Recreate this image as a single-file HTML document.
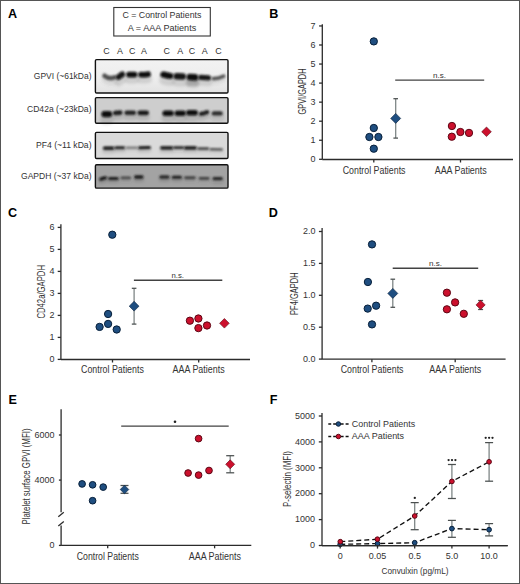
<!DOCTYPE html><html><head><meta charset="utf-8"><style>html,body{margin:0;padding:0;background:#fff;}svg{display:block;}</style></head><body>
<svg width="520" height="584" viewBox="0 0 520 584" font-family='"Liberation Sans", sans-serif'>
<rect x="0" y="0" width="520" height="584" fill="#fff"/>
<text x="8" y="17.9" font-size="12.6" text-anchor="start" fill="#000" font-weight="bold" >A</text>
<rect x="113.8" y="7.5" width="96.5" height="28.5" fill="none" stroke="#333" stroke-width="1.1"/>
<text x="161.9" y="17.7" font-size="8.8" text-anchor="middle" fill="#333333" font-weight="normal" textLength="79" lengthAdjust="spacingAndGlyphs" >C = Control Patients</text>
<text x="162" y="30.8" font-size="8.8" text-anchor="middle" fill="#333333" font-weight="normal" textLength="68.5" lengthAdjust="spacingAndGlyphs" >A = AAA Patients</text>
<text x="106.4" y="53.5" font-size="8.9" text-anchor="middle" fill="#333333" font-weight="normal" >C</text>
<text x="119.9" y="53.5" font-size="8.9" text-anchor="middle" fill="#333333" font-weight="normal" >A</text>
<text x="132.2" y="53.5" font-size="8.9" text-anchor="middle" fill="#333333" font-weight="normal" >C</text>
<text x="144" y="53.5" font-size="8.9" text-anchor="middle" fill="#333333" font-weight="normal" >A</text>
<text x="166.6" y="53.5" font-size="8.9" text-anchor="middle" fill="#333333" font-weight="normal" >C</text>
<text x="180.1" y="53.5" font-size="8.9" text-anchor="middle" fill="#333333" font-weight="normal" >A</text>
<text x="192" y="53.5" font-size="8.9" text-anchor="middle" fill="#333333" font-weight="normal" >C</text>
<text x="204.8" y="53.5" font-size="8.9" text-anchor="middle" fill="#333333" font-weight="normal" >A</text>
<text x="218.5" y="53.5" font-size="8.9" text-anchor="middle" fill="#333333" font-weight="normal" >C</text>
<text x="91.5" y="79.2" font-size="8.6" text-anchor="end" fill="#333333" font-weight="normal" textLength="57.7" lengthAdjust="spacingAndGlyphs" >GPVI (~61kDa)</text>
<text x="91.5" y="112.3" font-size="8.6" text-anchor="end" fill="#333333" font-weight="normal" textLength="64.5" lengthAdjust="spacingAndGlyphs" >CD42a (~23kDa)</text>
<text x="91.5" y="148" font-size="8.6" text-anchor="end" fill="#333333" font-weight="normal" textLength="55.5" lengthAdjust="spacingAndGlyphs" >PF4 (~11 kDa)</text>
<text x="91.5" y="179" font-size="8.6" text-anchor="end" fill="#333333" font-weight="normal" textLength="70.5" lengthAdjust="spacingAndGlyphs" >GAPDH (~37 kDa)</text>
<defs><filter id="bl" filterUnits="userSpaceOnUse" x="90" y="50" width="145" height="145"><feGaussianBlur stdDeviation="1.05"/></filter><filter id="bl2" filterUnits="userSpaceOnUse" x="90" y="50" width="145" height="145"><feGaussianBlur stdDeviation="1.6"/></filter><linearGradient id="g1" x1="0" y1="0" x2="0" y2="1"><stop offset="0" stop-color="#f2f2f2"/><stop offset="0.6" stop-color="#ededed"/><stop offset="1" stop-color="#e2e2e2"/></linearGradient></defs>
<rect x="95.4" y="59.6" width="132.6" height="33.4" rx="1.2" fill="url(#g1)" stroke="#111" stroke-width="1.4"/>
<rect x="187" y="78" width="11" height="8" fill="#bdbdbd" filter="url(#bl2)"/>
<path d="M104.5 79.9 Q109.4 83.5 114.3 81.5" stroke="rgb(80,80,80)" stroke-opacity="0.12" stroke-width="6.4" stroke-linecap="round" fill="none" filter="url(#bl2)"/>
<path d="M104.5 75.8 Q109.4 79.4 114.3 77.4" stroke="rgb(80,80,80)" stroke-width="4.6" stroke-linecap="round" fill="none" filter="url(#bl)"/>
<path d="M118.6 82.2 Q120.4 80.9 122.2 79.6" stroke="rgb(18,18,18)" stroke-opacity="0.12" stroke-width="8.1" stroke-linecap="round" fill="none" filter="url(#bl2)"/>
<path d="M118.6 77.0 Q120.4 75.7 122.2 74.4" stroke="rgb(18,18,18)" stroke-width="5.8" stroke-linecap="round" fill="none" filter="url(#bl)"/>
<path d="M129.0 79.8 Q131.8 79.8 134.6 79.8" stroke="rgb(10,10,10)" stroke-opacity="0.12" stroke-width="8.1" stroke-linecap="round" fill="none" filter="url(#bl2)"/>
<path d="M129.0 74.6 Q131.8 74.6 134.6 74.6" stroke="rgb(10,10,10)" stroke-width="5.8" stroke-linecap="round" fill="none" filter="url(#bl)"/>
<path d="M140.9 79.6 Q144.5 79.9 148.1 79.2" stroke="rgb(10,10,10)" stroke-opacity="0.12" stroke-width="7.8" stroke-linecap="round" fill="none" filter="url(#bl2)"/>
<path d="M140.9 74.6 Q144.5 74.9 148.1 74.2" stroke="rgb(10,10,10)" stroke-width="5.6" stroke-linecap="round" fill="none" filter="url(#bl)"/>
<path d="M163.4 80.2 Q166.9 81.2 170.4 81.6" stroke="rgb(10,10,10)" stroke-opacity="0.12" stroke-width="8.7" stroke-linecap="round" fill="none" filter="url(#bl2)"/>
<path d="M163.4 74.6 Q166.9 75.6 170.4 76.0" stroke="rgb(10,10,10)" stroke-width="6.2" stroke-linecap="round" fill="none" filter="url(#bl)"/>
<path d="M176.7 82.1 Q179.8 82.2 182.9 82.3" stroke="rgb(18,18,18)" stroke-opacity="0.12" stroke-width="9.0" stroke-linecap="round" fill="none" filter="url(#bl2)"/>
<path d="M176.7 76.3 Q179.8 76.4 182.9 76.5" stroke="rgb(18,18,18)" stroke-width="6.4" stroke-linecap="round" fill="none" filter="url(#bl)"/>
<path d="M189.8 82.9 Q192.4 83.1 195.0 83.3" stroke="rgb(12,12,12)" stroke-opacity="0.12" stroke-width="9.2" stroke-linecap="round" fill="none" filter="url(#bl2)"/>
<path d="M189.8 77.0 Q192.4 77.2 195.0 77.4" stroke="rgb(12,12,12)" stroke-width="6.6" stroke-linecap="round" fill="none" filter="url(#bl)"/>
<path d="M200.7 82.1 Q204.6 82.5 208.5 82.5" stroke="rgb(20,20,20)" stroke-opacity="0.12" stroke-width="7.3" stroke-linecap="round" fill="none" filter="url(#bl2)"/>
<path d="M200.7 77.4 Q204.6 77.8 208.5 77.8" stroke="rgb(20,20,20)" stroke-width="5.2" stroke-linecap="round" fill="none" filter="url(#bl)"/>
<path d="M213.2 81.8 Q218.4 82.0 223.7 79.4" stroke="rgb(85,85,85)" stroke-opacity="0.12" stroke-width="5.0" stroke-linecap="round" fill="none" filter="url(#bl2)"/>
<path d="M213.2 78.6 Q218.4 78.8 223.7 76.2" stroke="rgb(85,85,85)" stroke-width="3.6" stroke-linecap="round" fill="none" filter="url(#bl)"/>
<rect x="95.4" y="97.6" width="132.6" height="25.6" rx="1.2" fill="#cecece" stroke="#111" stroke-width="1.4"/>
<path d="M104.5 119.9 Q106.8 119.9 109.1 119.9" stroke="rgb(8,8,8)" stroke-opacity="0.12" stroke-width="9.0" stroke-linecap="round" fill="none" filter="url(#bl2)"/>
<path d="M104.5 114.1 Q106.8 114.1 109.1 114.1" stroke="rgb(8,8,8)" stroke-width="6.4" stroke-linecap="round" fill="none" filter="url(#bl)"/>
<path d="M115.1 117.1 Q117.7 116.9 120.3 116.7" stroke="rgb(30,30,30)" stroke-opacity="0.12" stroke-width="6.4" stroke-linecap="round" fill="none" filter="url(#bl2)"/>
<path d="M115.1 113.0 Q117.7 112.8 120.3 112.6" stroke="rgb(30,30,30)" stroke-width="4.6" stroke-linecap="round" fill="none" filter="url(#bl)"/>
<path d="M126.6 116.9 Q130.2 116.9 133.8 116.9" stroke="rgb(32,32,32)" stroke-opacity="0.12" stroke-width="6.4" stroke-linecap="round" fill="none" filter="url(#bl2)"/>
<path d="M126.6 112.8 Q130.2 112.8 133.8 112.8" stroke="rgb(32,32,32)" stroke-width="4.6" stroke-linecap="round" fill="none" filter="url(#bl)"/>
<path d="M139.7 117.1 Q143.2 117.1 146.7 117.1" stroke="rgb(25,25,25)" stroke-opacity="0.12" stroke-width="6.7" stroke-linecap="round" fill="none" filter="url(#bl2)"/>
<path d="M139.7 112.8 Q143.2 112.8 146.7 112.8" stroke="rgb(25,25,25)" stroke-width="4.8" stroke-linecap="round" fill="none" filter="url(#bl)"/>
<path d="M165.1 118.1 Q168.1 118.1 171.1 118.1" stroke="rgb(10,10,10)" stroke-opacity="0.12" stroke-width="7.6" stroke-linecap="round" fill="none" filter="url(#bl2)"/>
<path d="M165.1 113.2 Q168.1 113.2 171.1 113.2" stroke="rgb(10,10,10)" stroke-width="5.4" stroke-linecap="round" fill="none" filter="url(#bl)"/>
<path d="M177.2 118.1 Q180.2 118.1 183.2 118.1" stroke="rgb(14,14,14)" stroke-opacity="0.12" stroke-width="7.6" stroke-linecap="round" fill="none" filter="url(#bl2)"/>
<path d="M177.2 113.2 Q180.2 113.2 183.2 113.2" stroke="rgb(14,14,14)" stroke-width="5.4" stroke-linecap="round" fill="none" filter="url(#bl)"/>
<path d="M188.7 117.6 Q192.0 117.6 195.3 117.6" stroke="rgb(12,12,12)" stroke-opacity="0.12" stroke-width="7.6" stroke-linecap="round" fill="none" filter="url(#bl2)"/>
<path d="M188.7 112.7 Q192.0 112.7 195.3 112.7" stroke="rgb(12,12,12)" stroke-width="5.4" stroke-linecap="round" fill="none" filter="url(#bl)"/>
<path d="M200.9 117.7 Q204.1 117.4 207.2 115.9" stroke="rgb(30,30,30)" stroke-opacity="0.12" stroke-width="5.9" stroke-linecap="round" fill="none" filter="url(#bl2)"/>
<path d="M200.9 113.9 Q204.1 113.6 207.2 112.1" stroke="rgb(30,30,30)" stroke-width="4.2" stroke-linecap="round" fill="none" filter="url(#bl)"/>
<path d="M213.8 117.4 Q217.2 117.4 220.6 117.4" stroke="rgb(42,42,42)" stroke-opacity="0.12" stroke-width="6.2" stroke-linecap="round" fill="none" filter="url(#bl2)"/>
<path d="M213.8 113.4 Q217.2 113.4 220.6 113.4" stroke="rgb(42,42,42)" stroke-width="4.4" stroke-linecap="round" fill="none" filter="url(#bl)"/>
<rect x="95.4" y="132.4" width="132.6" height="26.1" rx="1.2" fill="#dadada" stroke="#111" stroke-width="1.4"/>
<path d="M104.5 151.2 Q108.6 151.2 112.7 151.2" stroke="rgb(8,8,8)" stroke-opacity="0.12" stroke-width="4.8" stroke-linecap="round" fill="none" filter="url(#bl2)"/>
<path d="M104.5 148.1 Q108.6 148.1 112.7 148.1" stroke="rgb(8,8,8)" stroke-width="3.4" stroke-linecap="round" fill="none" filter="url(#bl)"/>
<path d="M115.8 150.4 Q119.7 150.4 123.7 150.4" stroke="rgb(35,35,35)" stroke-opacity="0.12" stroke-width="4.2" stroke-linecap="round" fill="none" filter="url(#bl2)"/>
<path d="M115.8 147.7 Q119.7 147.7 123.7 147.7" stroke="rgb(35,35,35)" stroke-width="3.0" stroke-linecap="round" fill="none" filter="url(#bl)"/>
<path d="M126.8 150.0 Q131.7 150.0 136.6 150.0" stroke="rgb(125,125,125)" stroke-opacity="0.12" stroke-width="3.6" stroke-linecap="round" fill="none" filter="url(#bl2)"/>
<path d="M126.8 147.7 Q131.7 147.7 136.6 147.7" stroke="rgb(125,125,125)" stroke-width="2.6" stroke-linecap="round" fill="none" filter="url(#bl)"/>
<path d="M139.6 150.5 Q144.5 150.4 149.4 150.3" stroke="rgb(25,25,25)" stroke-opacity="0.12" stroke-width="4.3" stroke-linecap="round" fill="none" filter="url(#bl2)"/>
<path d="M139.6 147.7 Q144.5 147.6 149.4 147.5" stroke="rgb(25,25,25)" stroke-width="3.1" stroke-linecap="round" fill="none" filter="url(#bl)"/>
<path d="M161.7 150.8 Q166.7 150.8 171.7 150.8" stroke="rgb(10,10,10)" stroke-opacity="0.12" stroke-width="4.6" stroke-linecap="round" fill="none" filter="url(#bl2)"/>
<path d="M161.7 147.8 Q166.7 147.8 171.7 147.8" stroke="rgb(10,10,10)" stroke-width="3.3" stroke-linecap="round" fill="none" filter="url(#bl)"/>
<path d="M174.5 150.2 Q178.6 150.2 182.7 150.2" stroke="rgb(38,38,38)" stroke-opacity="0.12" stroke-width="4.1" stroke-linecap="round" fill="none" filter="url(#bl2)"/>
<path d="M174.5 147.6 Q178.6 147.6 182.7 147.6" stroke="rgb(38,38,38)" stroke-width="2.9" stroke-linecap="round" fill="none" filter="url(#bl)"/>
<path d="M185.5 150.8 Q190.4 150.8 195.3 150.8" stroke="rgb(12,12,12)" stroke-opacity="0.12" stroke-width="4.6" stroke-linecap="round" fill="none" filter="url(#bl2)"/>
<path d="M185.5 147.8 Q190.4 147.8 195.3 147.8" stroke="rgb(12,12,12)" stroke-width="3.3" stroke-linecap="round" fill="none" filter="url(#bl)"/>
<path d="M198.6 151.1 Q203.2 151.1 207.8 151.1" stroke="rgb(70,70,70)" stroke-opacity="0.12" stroke-width="3.8" stroke-linecap="round" fill="none" filter="url(#bl2)"/>
<path d="M198.6 148.7 Q203.2 148.7 207.8 148.7" stroke="rgb(70,70,70)" stroke-width="2.7" stroke-linecap="round" fill="none" filter="url(#bl)"/>
<path d="M210.7 151.4 Q216.2 151.6 221.7 151.7" stroke="rgb(85,85,85)" stroke-opacity="0.12" stroke-width="3.5" stroke-linecap="round" fill="none" filter="url(#bl2)"/>
<path d="M210.7 149.2 Q216.2 149.3 221.7 149.4" stroke="rgb(85,85,85)" stroke-width="2.5" stroke-linecap="round" fill="none" filter="url(#bl)"/>
<rect x="95.4" y="164.7" width="132.6" height="23.4" rx="1.2" fill="#a3a3a3" stroke="#111" stroke-width="1.4"/>
<path d="M100.8 181.9 Q103.1 181.3 105.4 180.7" stroke="rgb(15,15,15)" stroke-opacity="0.12" stroke-width="4.5" stroke-linecap="round" fill="none" filter="url(#bl2)"/>
<path d="M100.8 179.0 Q103.1 178.4 105.4 177.8" stroke="rgb(15,15,15)" stroke-width="3.2" stroke-linecap="round" fill="none" filter="url(#bl)"/>
<path d="M109.5 181.1 Q113.4 181.1 117.2 181.1" stroke="rgb(28,28,28)" stroke-opacity="0.12" stroke-width="4.2" stroke-linecap="round" fill="none" filter="url(#bl2)"/>
<path d="M109.5 178.4 Q113.4 178.4 117.2 178.4" stroke="rgb(28,28,28)" stroke-width="3.0" stroke-linecap="round" fill="none" filter="url(#bl)"/>
<path d="M121.9 180.4 Q125.8 180.4 129.7 180.4" stroke="rgb(70,70,70)" stroke-opacity="0.12" stroke-width="3.9" stroke-linecap="round" fill="none" filter="url(#bl2)"/>
<path d="M121.9 177.9 Q125.8 177.9 129.7 177.9" stroke="rgb(70,70,70)" stroke-width="2.8" stroke-linecap="round" fill="none" filter="url(#bl)"/>
<path d="M135.7 180.0 Q138.8 180.0 141.9 180.0" stroke="rgb(25,25,25)" stroke-opacity="0.12" stroke-width="4.6" stroke-linecap="round" fill="none" filter="url(#bl2)"/>
<path d="M135.7 177.0 Q138.8 177.0 141.9 177.0" stroke="rgb(25,25,25)" stroke-width="3.3" stroke-linecap="round" fill="none" filter="url(#bl)"/>
<path d="M160.8 179.8 Q164.4 179.8 168.0 179.8" stroke="rgb(28,28,28)" stroke-opacity="0.12" stroke-width="4.3" stroke-linecap="round" fill="none" filter="url(#bl2)"/>
<path d="M160.8 177.0 Q164.4 177.0 168.0 177.0" stroke="rgb(28,28,28)" stroke-width="3.1" stroke-linecap="round" fill="none" filter="url(#bl)"/>
<path d="M173.2 179.9 Q176.8 179.9 180.5 179.9" stroke="rgb(28,28,28)" stroke-opacity="0.12" stroke-width="4.2" stroke-linecap="round" fill="none" filter="url(#bl2)"/>
<path d="M173.2 177.2 Q176.8 177.2 180.5 177.2" stroke="rgb(28,28,28)" stroke-width="3.0" stroke-linecap="round" fill="none" filter="url(#bl)"/>
<path d="M185.5 180.3 Q189.9 180.3 194.3 180.3" stroke="rgb(65,65,65)" stroke-opacity="0.12" stroke-width="4.1" stroke-linecap="round" fill="none" filter="url(#bl2)"/>
<path d="M185.5 177.7 Q189.9 177.7 194.3 177.7" stroke="rgb(65,65,65)" stroke-width="2.9" stroke-linecap="round" fill="none" filter="url(#bl)"/>
<path d="M200.1 180.9 Q204.1 180.9 208.1 180.9" stroke="rgb(62,62,62)" stroke-opacity="0.12" stroke-width="3.9" stroke-linecap="round" fill="none" filter="url(#bl2)"/>
<path d="M200.1 178.4 Q204.1 178.4 208.1 178.4" stroke="rgb(62,62,62)" stroke-width="2.8" stroke-linecap="round" fill="none" filter="url(#bl)"/>
<path d="M214.0 181.5 Q217.6 181.5 221.3 181.5" stroke="rgb(38,38,38)" stroke-opacity="0.12" stroke-width="4.5" stroke-linecap="round" fill="none" filter="url(#bl2)"/>
<path d="M214.0 178.6 Q217.6 178.6 221.3 178.6" stroke="rgb(38,38,38)" stroke-width="3.2" stroke-linecap="round" fill="none" filter="url(#bl)"/>
<text x="269.3" y="18.3" font-size="12.6" text-anchor="start" fill="#000" font-weight="bold" >B</text>
<line x1="322.3" y1="24.2" x2="322.3" y2="159.5" stroke="#2b2b2b" stroke-width="1.3" />
<line x1="319.1" y1="159.3" x2="322.3" y2="159.3" stroke="#2b2b2b" stroke-width="1.3" />
<text transform="translate(315.6 162.05) scale(1 1.03)" x="0" y="0" font-size="9.0" text-anchor="end" fill="#333333" font-weight="normal" >0</text>
<line x1="319.1" y1="140.25" x2="322.3" y2="140.25" stroke="#2b2b2b" stroke-width="1.3" />
<text transform="translate(315.6 143.0) scale(1 1.03)" x="0" y="0" font-size="9.0" text-anchor="end" fill="#333333" font-weight="normal" >1</text>
<line x1="319.1" y1="121.20000000000002" x2="322.3" y2="121.20000000000002" stroke="#2b2b2b" stroke-width="1.3" />
<text transform="translate(315.6 123.95000000000002) scale(1 1.03)" x="0" y="0" font-size="9.0" text-anchor="end" fill="#333333" font-weight="normal" >2</text>
<line x1="319.1" y1="102.15" x2="322.3" y2="102.15" stroke="#2b2b2b" stroke-width="1.3" />
<text transform="translate(315.6 104.9) scale(1 1.03)" x="0" y="0" font-size="9.0" text-anchor="end" fill="#333333" font-weight="normal" >3</text>
<line x1="319.1" y1="83.10000000000001" x2="322.3" y2="83.10000000000001" stroke="#2b2b2b" stroke-width="1.3" />
<text transform="translate(315.6 85.85000000000001) scale(1 1.03)" x="0" y="0" font-size="9.0" text-anchor="end" fill="#333333" font-weight="normal" >4</text>
<line x1="319.1" y1="64.05000000000001" x2="322.3" y2="64.05000000000001" stroke="#2b2b2b" stroke-width="1.3" />
<text transform="translate(315.6 66.80000000000001) scale(1 1.03)" x="0" y="0" font-size="9.0" text-anchor="end" fill="#333333" font-weight="normal" >5</text>
<line x1="319.1" y1="45.0" x2="322.3" y2="45.0" stroke="#2b2b2b" stroke-width="1.3" />
<text transform="translate(315.6 47.75) scale(1 1.03)" x="0" y="0" font-size="9.0" text-anchor="end" fill="#333333" font-weight="normal" >6</text>
<line x1="319.1" y1="25.950000000000017" x2="322.3" y2="25.950000000000017" stroke="#2b2b2b" stroke-width="1.3" />
<text transform="translate(315.6 28.700000000000017) scale(1 1.03)" x="0" y="0" font-size="9.0" text-anchor="end" fill="#333333" font-weight="normal" >7</text>
<line x1="322.3" y1="159.5" x2="513" y2="159.5" stroke="#2b2b2b" stroke-width="1.3" />
<line x1="373.8" y1="159.5" x2="373.8" y2="162.5" stroke="#2b2b2b" stroke-width="1.3" />
<line x1="460.5" y1="159.5" x2="460.5" y2="162.5" stroke="#2b2b2b" stroke-width="1.3" />
<text transform="translate(301.8,91.5) rotate(-90)" x="0" y="3.82" font-size="10.6" text-anchor="middle" fill="#333333" textLength="46" lengthAdjust="spacingAndGlyphs">GPVI/GAPDH</text>
<text transform="translate(374.1 173.6) scale(1 1.07)" x="0" y="0" font-size="9.4" text-anchor="middle" fill="#333333" font-weight="normal" textLength="62.8" lengthAdjust="spacingAndGlyphs" >Control Patients</text>
<text transform="translate(460.7 173.6) scale(1 1.07)" x="0" y="0" font-size="9.4" text-anchor="middle" fill="#333333" font-weight="normal" textLength="52" lengthAdjust="spacingAndGlyphs" >AAA Patients</text>
<line x1="395.2" y1="80.1" x2="484.2" y2="80.1" stroke="#424242" stroke-width="1.4" />
<text x="439.5" y="77.7" font-size="8.0" text-anchor="middle" fill="#333333" font-weight="normal" textLength="13" lengthAdjust="spacingAndGlyphs" >n.s.</text>
<circle cx="373.8" cy="41.4" r="3.65" fill="#1f4e80" stroke="#08203a" stroke-width="1.0"/>
<circle cx="373.8" cy="128" r="3.65" fill="#1f4e80" stroke="#08203a" stroke-width="1.0"/>
<circle cx="369.4" cy="137" r="3.65" fill="#1f4e80" stroke="#08203a" stroke-width="1.0"/>
<circle cx="378.4" cy="137" r="3.65" fill="#1f4e80" stroke="#08203a" stroke-width="1.0"/>
<circle cx="373.8" cy="148.7" r="3.65" fill="#1f4e80" stroke="#08203a" stroke-width="1.0"/>
<line x1="395.7" y1="98.7" x2="395.7" y2="138.1" stroke="#7a8282" stroke-width="1.25" />
<line x1="393.4" y1="98.7" x2="398.0" y2="98.7" stroke="#4a4f4f" stroke-width="1.25" />
<line x1="393.4" y1="138.1" x2="398.0" y2="138.1" stroke="#4a4f4f" stroke-width="1.25" />
<path d="M395.7 113.4 L400.7 118.4 L395.7 123.4 L390.7 118.4 Z" fill="#1f4e80" stroke="#08203a" stroke-width="0.6"/>
<circle cx="451.9" cy="126" r="3.65" fill="#cc102d" stroke="#5c0614" stroke-width="1.0"/>
<circle cx="451.8" cy="136.7" r="3.65" fill="#cc102d" stroke="#5c0614" stroke-width="1.0"/>
<circle cx="460.4" cy="132" r="3.65" fill="#cc102d" stroke="#5c0614" stroke-width="1.0"/>
<circle cx="469" cy="132.9" r="3.65" fill="#cc102d" stroke="#5c0614" stroke-width="1.0"/>
<path d="M486.5 127.00000000000001 L491.3 131.8 L486.5 136.60000000000002 L481.7 131.8 Z" fill="#cc102d" stroke="#5c0614" stroke-width="0.6"/>
<text x="8" y="217.0" font-size="12.6" text-anchor="start" fill="#000" font-weight="bold" >C</text>
<line x1="60.9" y1="224.2" x2="60.9" y2="359.6" stroke="#2b2b2b" stroke-width="1.3" />
<line x1="57.699999999999996" y1="359.4" x2="60.9" y2="359.4" stroke="#2b2b2b" stroke-width="1.3" />
<text transform="translate(54.6 362.15) scale(1 1.03)" x="0" y="0" font-size="9.0" text-anchor="end" fill="#333333" font-weight="normal" >0</text>
<line x1="57.699999999999996" y1="337.4" x2="60.9" y2="337.4" stroke="#2b2b2b" stroke-width="1.3" />
<text transform="translate(54.6 340.15) scale(1 1.03)" x="0" y="0" font-size="9.0" text-anchor="end" fill="#333333" font-weight="normal" >1</text>
<line x1="57.699999999999996" y1="315.4" x2="60.9" y2="315.4" stroke="#2b2b2b" stroke-width="1.3" />
<text transform="translate(54.6 318.15) scale(1 1.03)" x="0" y="0" font-size="9.0" text-anchor="end" fill="#333333" font-weight="normal" >2</text>
<line x1="57.699999999999996" y1="293.4" x2="60.9" y2="293.4" stroke="#2b2b2b" stroke-width="1.3" />
<text transform="translate(54.6 296.15) scale(1 1.03)" x="0" y="0" font-size="9.0" text-anchor="end" fill="#333333" font-weight="normal" >3</text>
<line x1="57.699999999999996" y1="271.4" x2="60.9" y2="271.4" stroke="#2b2b2b" stroke-width="1.3" />
<text transform="translate(54.6 274.15) scale(1 1.03)" x="0" y="0" font-size="9.0" text-anchor="end" fill="#333333" font-weight="normal" >4</text>
<line x1="57.699999999999996" y1="249.39999999999998" x2="60.9" y2="249.39999999999998" stroke="#2b2b2b" stroke-width="1.3" />
<text transform="translate(54.6 252.14999999999998) scale(1 1.03)" x="0" y="0" font-size="9.0" text-anchor="end" fill="#333333" font-weight="normal" >5</text>
<line x1="57.699999999999996" y1="227.39999999999998" x2="60.9" y2="227.39999999999998" stroke="#2b2b2b" stroke-width="1.3" />
<text transform="translate(54.6 230.14999999999998) scale(1 1.03)" x="0" y="0" font-size="9.0" text-anchor="end" fill="#333333" font-weight="normal" >6</text>
<line x1="60.9" y1="359.5" x2="250" y2="359.5" stroke="#2b2b2b" stroke-width="1.3" />
<line x1="112.5" y1="359.5" x2="112.5" y2="362.5" stroke="#2b2b2b" stroke-width="1.3" />
<line x1="198.7" y1="359.5" x2="198.7" y2="362.5" stroke="#2b2b2b" stroke-width="1.3" />
<text transform="translate(41.0,291.8) rotate(-90)" x="0" y="3.82" font-size="10.6" text-anchor="middle" fill="#333333" textLength="53.5" lengthAdjust="spacingAndGlyphs">CD42a/GAPDH</text>
<text transform="translate(112.4 373.3) scale(1 1.07)" x="0" y="0" font-size="9.4" text-anchor="middle" fill="#333333" font-weight="normal" textLength="62.8" lengthAdjust="spacingAndGlyphs" >Control Patients</text>
<text transform="translate(198.6 373.3) scale(1 1.07)" x="0" y="0" font-size="9.4" text-anchor="middle" fill="#333333" font-weight="normal" textLength="52" lengthAdjust="spacingAndGlyphs" >AAA Patients</text>
<line x1="133.9" y1="280.3" x2="222.3" y2="280.3" stroke="#424242" stroke-width="1.4" />
<text x="177.7" y="277.8" font-size="8.0" text-anchor="middle" fill="#333333" font-weight="normal" textLength="12.5" lengthAdjust="spacingAndGlyphs" >n.s.</text>
<circle cx="112.3" cy="234.7" r="3.65" fill="#1f4e80" stroke="#08203a" stroke-width="1.0"/>
<circle cx="108.1" cy="314" r="3.65" fill="#1f4e80" stroke="#08203a" stroke-width="1.0"/>
<circle cx="108.1" cy="323.9" r="3.65" fill="#1f4e80" stroke="#08203a" stroke-width="1.0"/>
<circle cx="99.6" cy="326.9" r="3.65" fill="#1f4e80" stroke="#08203a" stroke-width="1.0"/>
<circle cx="116.7" cy="329.5" r="3.65" fill="#1f4e80" stroke="#08203a" stroke-width="1.0"/>
<line x1="134.1" y1="288.3" x2="134.1" y2="324.1" stroke="#7a8282" stroke-width="1.25" />
<line x1="131.79999999999998" y1="288.3" x2="136.4" y2="288.3" stroke="#4a4f4f" stroke-width="1.25" />
<line x1="131.79999999999998" y1="324.1" x2="136.4" y2="324.1" stroke="#4a4f4f" stroke-width="1.25" />
<path d="M134.1 301.3 L139.0 306.2 L134.1 311.09999999999997 L129.2 306.2 Z" fill="#1f4e80" stroke="#08203a" stroke-width="0.6"/>
<circle cx="189.9" cy="320.7" r="3.65" fill="#cc102d" stroke="#5c0614" stroke-width="1.0"/>
<circle cx="198.4" cy="318.5" r="3.65" fill="#cc102d" stroke="#5c0614" stroke-width="1.0"/>
<circle cx="198.4" cy="328.1" r="3.65" fill="#cc102d" stroke="#5c0614" stroke-width="1.0"/>
<circle cx="207" cy="325.5" r="3.65" fill="#cc102d" stroke="#5c0614" stroke-width="1.0"/>
<path d="M224.4 318.5 L229.20000000000002 323.3 L224.4 328.1 L219.6 323.3 Z" fill="#cc102d" stroke="#5c0614" stroke-width="0.6"/>
<text x="268.8" y="217.0" font-size="12.6" text-anchor="start" fill="#000" font-weight="bold" >D</text>
<line x1="322.1" y1="228" x2="322.1" y2="359.3" stroke="#2b2b2b" stroke-width="1.3" />
<line x1="318.90000000000003" y1="359.1" x2="322.1" y2="359.1" stroke="#2b2b2b" stroke-width="1.3" />
<text transform="translate(315.5 361.85) scale(1 1.03)" x="0" y="0" font-size="9.0" text-anchor="end" fill="#333333" font-weight="normal" >0.0</text>
<line x1="318.90000000000003" y1="327.20000000000005" x2="322.1" y2="327.20000000000005" stroke="#2b2b2b" stroke-width="1.3" />
<text transform="translate(315.5 329.95000000000005) scale(1 1.03)" x="0" y="0" font-size="9.0" text-anchor="end" fill="#333333" font-weight="normal" >0.5</text>
<line x1="318.90000000000003" y1="295.3" x2="322.1" y2="295.3" stroke="#2b2b2b" stroke-width="1.3" />
<text transform="translate(315.5 298.05) scale(1 1.03)" x="0" y="0" font-size="9.0" text-anchor="end" fill="#333333" font-weight="normal" >1.0</text>
<line x1="318.90000000000003" y1="263.40000000000003" x2="322.1" y2="263.40000000000003" stroke="#2b2b2b" stroke-width="1.3" />
<text transform="translate(315.5 266.15000000000003) scale(1 1.03)" x="0" y="0" font-size="9.0" text-anchor="end" fill="#333333" font-weight="normal" >1.5</text>
<line x1="318.90000000000003" y1="231.50000000000003" x2="322.1" y2="231.50000000000003" stroke="#2b2b2b" stroke-width="1.3" />
<text transform="translate(315.5 234.25000000000003) scale(1 1.03)" x="0" y="0" font-size="9.0" text-anchor="end" fill="#333333" font-weight="normal" >2.0</text>
<line x1="322.1" y1="359.2" x2="505.6" y2="359.2" stroke="#2b2b2b" stroke-width="1.3" />
<line x1="371.9" y1="359.2" x2="371.9" y2="362.2" stroke="#2b2b2b" stroke-width="1.3" />
<line x1="455.2" y1="359.2" x2="455.2" y2="362.2" stroke="#2b2b2b" stroke-width="1.3" />
<text transform="translate(294.1,293.7) rotate(-90)" x="0" y="3.82" font-size="10.6" text-anchor="middle" fill="#333333" textLength="42.5" lengthAdjust="spacingAndGlyphs">PF4/GAPDH</text>
<text transform="translate(372.1 373.4) scale(1 1.07)" x="0" y="0" font-size="9.4" text-anchor="middle" fill="#333333" font-weight="normal" textLength="62.8" lengthAdjust="spacingAndGlyphs" >Control Patients</text>
<text transform="translate(455.2 373.4) scale(1 1.07)" x="0" y="0" font-size="9.4" text-anchor="middle" fill="#333333" font-weight="normal" textLength="52" lengthAdjust="spacingAndGlyphs" >AAA Patients</text>
<line x1="392.7" y1="268.2" x2="478.2" y2="268.2" stroke="#424242" stroke-width="1.4" />
<text x="435.6" y="265.8" font-size="8.0" text-anchor="middle" fill="#333333" font-weight="normal" textLength="13" lengthAdjust="spacingAndGlyphs" >n.s.</text>
<circle cx="372" cy="244.4" r="3.65" fill="#1f4e80" stroke="#08203a" stroke-width="1.0"/>
<circle cx="367.9" cy="282" r="3.65" fill="#1f4e80" stroke="#08203a" stroke-width="1.0"/>
<circle cx="376.1" cy="305.7" r="3.65" fill="#1f4e80" stroke="#08203a" stroke-width="1.0"/>
<circle cx="367.7" cy="308.6" r="3.65" fill="#1f4e80" stroke="#08203a" stroke-width="1.0"/>
<circle cx="372" cy="324.4" r="3.65" fill="#1f4e80" stroke="#08203a" stroke-width="1.0"/>
<line x1="392.8" y1="279.2" x2="392.8" y2="307.3" stroke="#7a8282" stroke-width="1.25" />
<line x1="390.5" y1="279.2" x2="395.1" y2="279.2" stroke="#4a4f4f" stroke-width="1.25" />
<line x1="390.5" y1="307.3" x2="395.1" y2="307.3" stroke="#4a4f4f" stroke-width="1.25" />
<path d="M392.8 288.4 L397.8 293.4 L392.8 298.4 L387.8 293.4 Z" fill="#1f4e80" stroke="#08203a" stroke-width="0.6"/>
<circle cx="446.9" cy="292.7" r="3.65" fill="#cc102d" stroke="#5c0614" stroke-width="1.0"/>
<circle cx="455.1" cy="302.4" r="3.65" fill="#cc102d" stroke="#5c0614" stroke-width="1.0"/>
<circle cx="446.9" cy="309.3" r="3.65" fill="#cc102d" stroke="#5c0614" stroke-width="1.0"/>
<circle cx="463.8" cy="313.8" r="3.65" fill="#cc102d" stroke="#5c0614" stroke-width="1.0"/>
<line x1="480.6" y1="300.5" x2="480.6" y2="309.5" stroke="#7a8282" stroke-width="1.25" />
<line x1="478.1" y1="300.5" x2="483.1" y2="300.5" stroke="#4a4f4f" stroke-width="1.25" />
<line x1="478.1" y1="309.5" x2="483.1" y2="309.5" stroke="#4a4f4f" stroke-width="1.25" />
<path d="M480.6 300.29999999999995 L485.20000000000005 304.9 L480.6 309.5 L476.0 304.9 Z" fill="#cc102d" stroke="#5c0614" stroke-width="0.6"/>
<text x="8.6" y="403.5" font-size="12.6" text-anchor="start" fill="#000" font-weight="bold" >E</text>
<line x1="61.1" y1="409.3" x2="61.1" y2="512.3" stroke="#2b2b2b" stroke-width="1.3" />
<line x1="61.1" y1="525.5" x2="61.1" y2="545.6" stroke="#2b2b2b" stroke-width="1.3" />
<line x1="58.3" y1="516.8" x2="63.8" y2="512.3" stroke="#2b2b2b" stroke-width="1.3" />
<line x1="58.3" y1="526.0" x2="63.8" y2="521.5" stroke="#2b2b2b" stroke-width="1.3" />
<line x1="58.9" y1="435" x2="61.1" y2="435" stroke="#2b2b2b" stroke-width="1.3" />
<text transform="translate(54.4 437.75) scale(1 1.03)" x="0" y="0" font-size="9.0" text-anchor="end" fill="#333333" font-weight="normal" >6000</text>
<line x1="58.9" y1="480.1" x2="61.1" y2="480.1" stroke="#2b2b2b" stroke-width="1.3" />
<text transform="translate(54.4 482.85) scale(1 1.03)" x="0" y="0" font-size="9.0" text-anchor="end" fill="#333333" font-weight="normal" >4000</text>
<line x1="58.9" y1="545.4" x2="61.1" y2="545.4" stroke="#2b2b2b" stroke-width="1.3" />
<text transform="translate(54.4 548.15) scale(1 1.03)" x="0" y="0" font-size="9.0" text-anchor="end" fill="#333333" font-weight="normal" >0</text>
<line x1="61.1" y1="545.3" x2="251.3" y2="545.3" stroke="#2b2b2b" stroke-width="1.3" />
<line x1="107.7" y1="545.3" x2="107.7" y2="548.3" stroke="#2b2b2b" stroke-width="1.3" />
<line x1="214.6" y1="545.3" x2="214.6" y2="548.3" stroke="#2b2b2b" stroke-width="1.3" />
<text transform="translate(26.1,476.5) rotate(-90)" x="0" y="3.82" font-size="10.6" text-anchor="middle" fill="#333333" textLength="96" lengthAdjust="spacingAndGlyphs">Platelet surface GPVI (MFI)</text>
<text transform="translate(107.8 559.6) scale(1 1.07)" x="0" y="0" font-size="9.4" text-anchor="middle" fill="#333333" font-weight="normal" textLength="62" lengthAdjust="spacingAndGlyphs" >Control Patients</text>
<text transform="translate(214.8 559.6) scale(1 1.07)" x="0" y="0" font-size="9.4" text-anchor="middle" fill="#333333" font-weight="normal" textLength="52.2" lengthAdjust="spacingAndGlyphs" >AAA Patients</text>
<line x1="121.2" y1="426.1" x2="228.7" y2="426.1" stroke="#424242" stroke-width="1.4" />
<circle cx="175" cy="421.7" r="1.3" fill="#222"/>
<circle cx="82.1" cy="483.9" r="3.35" fill="#1f4e80" stroke="#08203a" stroke-width="1.0"/>
<circle cx="92.6" cy="484.8" r="3.35" fill="#1f4e80" stroke="#08203a" stroke-width="1.0"/>
<circle cx="103.2" cy="487.1" r="3.35" fill="#1f4e80" stroke="#08203a" stroke-width="1.0"/>
<circle cx="92.6" cy="500.7" r="3.35" fill="#1f4e80" stroke="#08203a" stroke-width="1.0"/>
<line x1="124.5" y1="485.5" x2="124.5" y2="493.3" stroke="#7a8282" stroke-width="1.25" />
<line x1="120.5" y1="485.5" x2="128.5" y2="485.5" stroke="#4a4f4f" stroke-width="1.25" />
<line x1="120.5" y1="493.3" x2="128.5" y2="493.3" stroke="#4a4f4f" stroke-width="1.25" />
<path d="M124.5 485.2 L128.8 489.5 L124.5 493.8 L120.2 489.5 Z" fill="#1f4e80" stroke="#08203a" stroke-width="0.6"/>
<circle cx="198.6" cy="438.6" r="3.35" fill="#cc102d" stroke="#5c0614" stroke-width="1.0"/>
<circle cx="188.1" cy="473" r="3.35" fill="#cc102d" stroke="#5c0614" stroke-width="1.0"/>
<circle cx="198.6" cy="475.1" r="3.35" fill="#cc102d" stroke="#5c0614" stroke-width="1.0"/>
<circle cx="209" cy="470.5" r="3.35" fill="#cc102d" stroke="#5c0614" stroke-width="1.0"/>
<line x1="230.2" y1="455.7" x2="230.2" y2="472.8" stroke="#7a8282" stroke-width="1.25" />
<line x1="226.2" y1="455.7" x2="234.2" y2="455.7" stroke="#4a4f4f" stroke-width="1.25" />
<line x1="226.2" y1="472.8" x2="234.2" y2="472.8" stroke="#4a4f4f" stroke-width="1.25" />
<path d="M230.2 459.8 L234.7 464.3 L230.2 468.8 L225.7 464.3 Z" fill="#cc102d" stroke="#5c0614" stroke-width="0.6"/>
<text x="269.8" y="403.5" font-size="12.6" text-anchor="start" fill="#000" font-weight="bold" >F</text>
<line x1="322" y1="413" x2="322" y2="545.7" stroke="#2b2b2b" stroke-width="1.3" />
<line x1="318.8" y1="545.5" x2="322" y2="545.5" stroke="#2b2b2b" stroke-width="1.3" />
<text transform="translate(315.1 548.25) scale(1 1.03)" x="0" y="0" font-size="9.0" text-anchor="end" fill="#333333" font-weight="normal" >0</text>
<line x1="318.8" y1="519.6" x2="322" y2="519.6" stroke="#2b2b2b" stroke-width="1.3" />
<text transform="translate(315.1 522.35) scale(1 1.03)" x="0" y="0" font-size="9.0" text-anchor="end" fill="#333333" font-weight="normal" >1000</text>
<line x1="318.8" y1="493.7" x2="322" y2="493.7" stroke="#2b2b2b" stroke-width="1.3" />
<text transform="translate(315.1 496.45) scale(1 1.03)" x="0" y="0" font-size="9.0" text-anchor="end" fill="#333333" font-weight="normal" >2000</text>
<line x1="318.8" y1="467.8" x2="322" y2="467.8" stroke="#2b2b2b" stroke-width="1.3" />
<text transform="translate(315.1 470.55) scale(1 1.03)" x="0" y="0" font-size="9.0" text-anchor="end" fill="#333333" font-weight="normal" >3000</text>
<line x1="318.8" y1="441.9" x2="322" y2="441.9" stroke="#2b2b2b" stroke-width="1.3" />
<text transform="translate(315.1 444.65) scale(1 1.03)" x="0" y="0" font-size="9.0" text-anchor="end" fill="#333333" font-weight="normal" >4000</text>
<line x1="318.8" y1="416.0" x2="322" y2="416.0" stroke="#2b2b2b" stroke-width="1.3" />
<text transform="translate(315.1 418.75) scale(1 1.03)" x="0" y="0" font-size="9.0" text-anchor="end" fill="#333333" font-weight="normal" >5000</text>
<line x1="322" y1="545.6" x2="507.7" y2="545.6" stroke="#2b2b2b" stroke-width="1.3" />
<line x1="340.2" y1="545.6" x2="340.2" y2="548.6" stroke="#2b2b2b" stroke-width="1.3" />
<line x1="377.5" y1="545.6" x2="377.5" y2="548.6" stroke="#2b2b2b" stroke-width="1.3" />
<line x1="414.7" y1="545.6" x2="414.7" y2="548.6" stroke="#2b2b2b" stroke-width="1.3" />
<line x1="451.9" y1="545.6" x2="451.9" y2="548.6" stroke="#2b2b2b" stroke-width="1.3" />
<line x1="489.1" y1="545.6" x2="489.1" y2="548.6" stroke="#2b2b2b" stroke-width="1.3" />
<text transform="translate(340.2 559.2) scale(1 1.04)" x="0" y="0" font-size="9.0" text-anchor="middle" fill="#333333" font-weight="normal" >0</text>
<text transform="translate(377.5 559.2) scale(1 1.04)" x="0" y="0" font-size="9.0" text-anchor="middle" fill="#333333" font-weight="normal" >0.05</text>
<text transform="translate(414.7 559.2) scale(1 1.04)" x="0" y="0" font-size="9.0" text-anchor="middle" fill="#333333" font-weight="normal" >0.5</text>
<text transform="translate(451.9 559.2) scale(1 1.04)" x="0" y="0" font-size="9.0" text-anchor="middle" fill="#333333" font-weight="normal" >5.0</text>
<text transform="translate(489.1 559.2) scale(1 1.04)" x="0" y="0" font-size="9.0" text-anchor="middle" fill="#333333" font-weight="normal" >10.0</text>
<text transform="translate(287.1,479) rotate(-90)" x="0" y="3.82" font-size="10.6" text-anchor="middle" fill="#333333" textLength="56" lengthAdjust="spacingAndGlyphs">P-selectin (MFI)</text>
<text x="415" y="574.3" font-size="9.2" text-anchor="middle" fill="#333333" font-weight="normal" textLength="67" lengthAdjust="spacingAndGlyphs" >Convulxin (pg/mL)</text>
<line x1="451.9" y1="520.4" x2="451.9" y2="537.3" stroke="#7a8282" stroke-width="1.25" />
<line x1="447.9" y1="520.4" x2="455.9" y2="520.4" stroke="#4a4f4f" stroke-width="1.25" />
<line x1="447.9" y1="537.3" x2="455.9" y2="537.3" stroke="#4a4f4f" stroke-width="1.25" />
<line x1="489.1" y1="523.6" x2="489.1" y2="535.9" stroke="#7a8282" stroke-width="1.25" />
<line x1="485.1" y1="523.6" x2="493.1" y2="523.6" stroke="#4a4f4f" stroke-width="1.25" />
<line x1="485.1" y1="535.9" x2="493.1" y2="535.9" stroke="#4a4f4f" stroke-width="1.25" />
<line x1="414.7" y1="502.6" x2="414.7" y2="529.7" stroke="#7a8282" stroke-width="1.25" />
<line x1="410.7" y1="502.6" x2="418.7" y2="502.6" stroke="#4a4f4f" stroke-width="1.25" />
<line x1="410.7" y1="529.7" x2="418.7" y2="529.7" stroke="#4a4f4f" stroke-width="1.25" />
<line x1="451.9" y1="464.5" x2="451.9" y2="498.5" stroke="#7a8282" stroke-width="1.25" />
<line x1="447.9" y1="464.5" x2="455.9" y2="464.5" stroke="#4a4f4f" stroke-width="1.25" />
<line x1="447.9" y1="498.5" x2="455.9" y2="498.5" stroke="#4a4f4f" stroke-width="1.25" />
<line x1="489.1" y1="442.6" x2="489.1" y2="481.2" stroke="#7a8282" stroke-width="1.25" />
<line x1="485.1" y1="442.6" x2="493.1" y2="442.6" stroke="#4a4f4f" stroke-width="1.25" />
<line x1="485.1" y1="481.2" x2="493.1" y2="481.2" stroke="#4a4f4f" stroke-width="1.25" />
<polyline points="340.2,544.3 377.5,543.6 414.7,542.7 451.9,528.6 489.1,529.7" fill="none" stroke="#111" stroke-width="1.35" stroke-dasharray="5 3"/>
<circle cx="340.2" cy="544.3" r="2.35" fill="#1f4e80" stroke="#08203a" stroke-width="1.0"/>
<circle cx="377.5" cy="543.6" r="2.35" fill="#1f4e80" stroke="#08203a" stroke-width="1.0"/>
<circle cx="414.7" cy="542.7" r="2.35" fill="#1f4e80" stroke="#08203a" stroke-width="1.0"/>
<circle cx="451.9" cy="528.6" r="2.35" fill="#1f4e80" stroke="#08203a" stroke-width="1.0"/>
<circle cx="489.1" cy="529.7" r="2.35" fill="#1f4e80" stroke="#08203a" stroke-width="1.0"/>
<line x1="322" y1="545.6" x2="507.7" y2="545.6" stroke="#2b2b2b" stroke-width="1.3" />
<polyline points="340.3,541.7 377.4,539.2 414.7,516 451.9,481.4 489.1,461.8" fill="none" stroke="#111" stroke-width="1.35" stroke-dasharray="5 3"/>
<circle cx="340.3" cy="541.7" r="2.35" fill="#cc102d" stroke="#5c0614" stroke-width="1.0"/>
<circle cx="377.4" cy="539.2" r="2.35" fill="#cc102d" stroke="#5c0614" stroke-width="1.0"/>
<circle cx="414.7" cy="516" r="2.35" fill="#cc102d" stroke="#5c0614" stroke-width="1.0"/>
<circle cx="451.9" cy="481.4" r="2.35" fill="#cc102d" stroke="#5c0614" stroke-width="1.0"/>
<circle cx="489.1" cy="461.8" r="2.35" fill="#cc102d" stroke="#5c0614" stroke-width="1.0"/>
<circle cx="414.8" cy="497.9" r="1.15" fill="#222"/>
<circle cx="448.6" cy="460.1" r="1.15" fill="#222"/>
<circle cx="452.0" cy="460.1" r="1.15" fill="#222"/>
<circle cx="455.4" cy="460.1" r="1.15" fill="#222"/>
<circle cx="485.7" cy="437.8" r="1.15" fill="#222"/>
<circle cx="489.1" cy="437.8" r="1.15" fill="#222"/>
<circle cx="492.5" cy="437.8" r="1.15" fill="#222"/>
<line x1="328.3" y1="424" x2="331.2" y2="424" stroke="#111" stroke-width="1.5" />
<line x1="333.2" y1="424" x2="336.2" y2="424" stroke="#111" stroke-width="1.5" />
<line x1="340.6" y1="424" x2="343.6" y2="424" stroke="#111" stroke-width="1.5" />
<line x1="345.6" y1="424" x2="348.6" y2="424" stroke="#111" stroke-width="1.5" />
<circle cx="338.4" cy="424" r="2.25" fill="#1f4e80" stroke="#08203a" stroke-width="1.0"/>
<line x1="328.3" y1="436.5" x2="331.2" y2="436.5" stroke="#111" stroke-width="1.5" />
<line x1="333.2" y1="436.5" x2="336.2" y2="436.5" stroke="#111" stroke-width="1.5" />
<line x1="340.6" y1="436.5" x2="343.6" y2="436.5" stroke="#111" stroke-width="1.5" />
<line x1="345.6" y1="436.5" x2="348.6" y2="436.5" stroke="#111" stroke-width="1.5" />
<circle cx="338.4" cy="436.5" r="2.25" fill="#cc102d" stroke="#5c0614" stroke-width="1.0"/>
<text x="351.8" y="426.9" font-size="9.4" text-anchor="start" fill="#333333" font-weight="normal" textLength="63.4" lengthAdjust="spacingAndGlyphs" >Control Patients</text>
<text x="351.8" y="439.2" font-size="9.4" text-anchor="start" fill="#333333" font-weight="normal" textLength="52.3" lengthAdjust="spacingAndGlyphs" >AAA Patients</text>
<rect x="0.5" y="0.5" width="519" height="583" fill="none" stroke="#555" stroke-width="1"/>
</svg></body></html>
